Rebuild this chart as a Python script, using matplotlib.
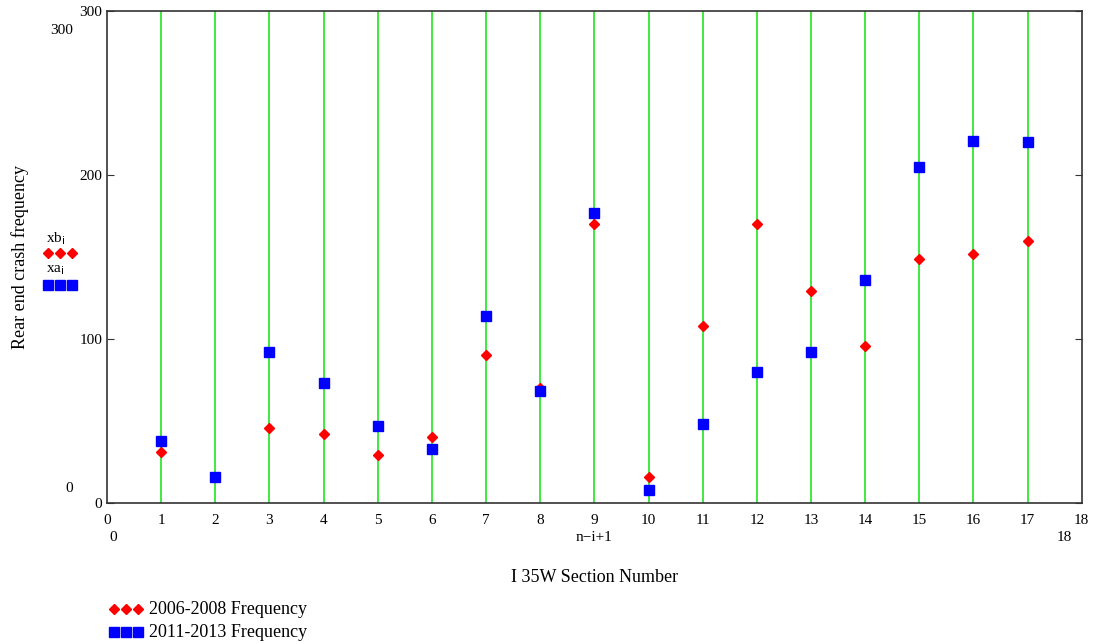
import matplotlib.pyplot as plt
from matplotlib.lines import Line2D

plt.rcParams['font.family'] = ['Liberation Serif', 'DejaVu Serif']

# datos
secciones = list(range(1, 18))
frec_2006_2008 = [31, 16, 46, 42, 29, 40, 90, 70, 170, 16, 108, 170, 129, 96, 149, 152, 160]
frec_2011_2013 = [38, 16, 92, 73, 47, 33, 114, 68, 177, 8, 48, 80, 92, 136, 205, 221, 220]
xticks = list(range(0, 19))
yticks = [0, 100, 200, 300]

fig = plt.figure(figsize=(10.94, 6.44), dpi=100)
ax = fig.add_axes([0.0978, 0.219, 0.891, 0.764])

# lineas verticales verdes
ax.vlines(secciones, 0, 300, color='#33e633', linewidth=1.3, zorder=1)

ax.plot(secciones, frec_2006_2008, linestyle='none', marker='D', color='red',
        markersize=5, zorder=3)
ax.plot(secciones, frec_2011_2013, linestyle='none', marker='s', color='blue',
        markersize=7, zorder=4)

ax.set_xlim(0, 18)
ax.set_ylim(0, 300)
ax.set_xticks(xticks)
ax.set_yticks(yticks)
ax.tick_params(direction='in', length=5, labelsize=11, right=True, color='#333333')
ax.tick_params(axis='x', length=0, pad=8)
for s in ax.spines.values():
    s.set_color('#333333')
    s.set_linewidth(1.2)

# etiquetas extra estilo Mathcad
ax.text(-0.035, 0.96, '300', transform=ax.transAxes, ha='right', va='center', fontsize=11)
ax.text(-0.035, 0.03, '0', transform=ax.transAxes, ha='right', va='center', fontsize=11)
ax.text(0.006, -0.07, '0', transform=ax.transAxes, ha='center', va='center', fontsize=11)
ax.text(0.982, -0.07, '18', transform=ax.transAxes, ha='center', va='center', fontsize=11)
ax.text(0.5, -0.07, 'n\u2212i+1', transform=ax.transAxes, ha='center', va='center', fontsize=11)

ax.set_xlabel('I 35W Section Number', fontsize=13, labelpad=30)
ax.set_ylabel('Rear end crash frequency', fontsize=13)
ax.yaxis.set_label_coords(-0.08, 0.5)

# nombres de las trazas a la izquierda
fig.text(0.042, 0.629, 'xb$_\\mathrm{i}$', fontsize=11, va='center')
fig.text(0.042, 0.581, 'xa$_\\mathrm{i}$', fontsize=11, va='center')
fig.add_artist(Line2D([0.044, 0.055, 0.066], [0.607, 0.607, 0.607], linestyle='none',
                      marker='D', color='red', markersize=5, transform=fig.transFigure))
fig.add_artist(Line2D([0.044, 0.055, 0.066], [0.557, 0.557, 0.557], linestyle='none',
                      marker='s', color='blue', markersize=6.5, transform=fig.transFigure))

# leyenda abajo
fig.add_artist(Line2D([0.104, 0.115, 0.126], [0.054, 0.054, 0.054], linestyle='none',
                      marker='D', color='red', markersize=5, transform=fig.transFigure))
fig.add_artist(Line2D([0.104, 0.115, 0.126], [0.018, 0.018, 0.018], linestyle='none',
                      marker='s', color='blue', markersize=6.5, transform=fig.transFigure))
fig.text(0.136, 0.054, '2006-2008 Frequency', fontsize=13, va='center')
fig.text(0.136, 0.018, '2011-2013 Frequency', fontsize=13, va='center')

fig.savefig('out.png', dpi=100)
